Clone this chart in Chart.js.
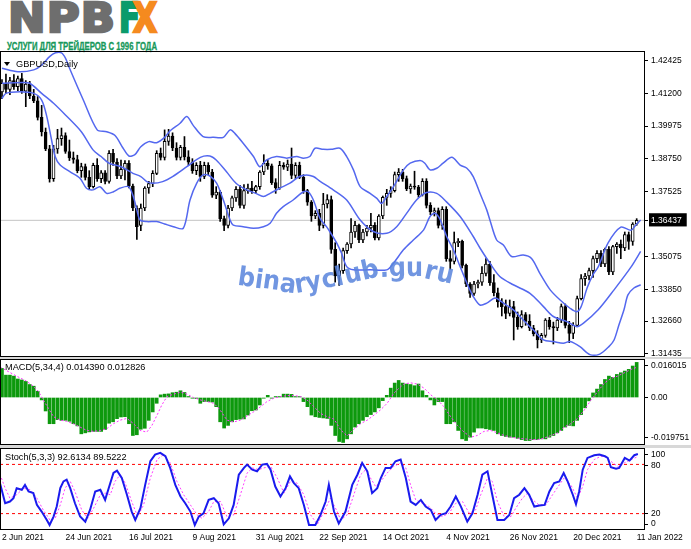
<!DOCTYPE html>
<html>
<head>
<meta charset="utf-8">
<title>GBPUSD Daily</title>
<script src="https://cdn.jsdelivr.net/npm/chart.js@4.4.1/dist/chart.umd.min.js"></script>
<style>
  body { margin:0; width:691px; height:549px; position:relative; overflow:hidden; background:#fff; font-family:"Liberation Sans", Arial, sans-serif; }
  canvas { position:absolute; left:0; }
  .sep { position:absolute; left:0; width:691px; background:#d8d8d8; }
  .lbl { position:absolute; font-size:9.2px; line-height:10px; color:#000; white-space:nowrap; }
  #tri { position:absolute; left:4px; top:62px; width:0; height:0; border-left:3px solid transparent; border-right:3px solid transparent; border-top:4px solid #000; }
  #logo span { position:absolute; font-family:"DejaVu Sans", sans-serif; font-weight:bold; font-size:41px; line-height:41px; top:-2px; transform-origin:0 0; white-space:nowrap; -webkit-text-stroke:2.5px currentColor; }
  #npb { left:8px; color:#6e6e6e; letter-spacing:1px; }
  #lf { left:119px; color:#0a9b6b; }
  #lx { left:133px; color:#f58a1f; }
  #sub { position:absolute; left:7px; top:41px; font-size:10.5px; line-height:10.5px; font-weight:bold; color:#16985a; white-space:nowrap; transform-origin:0 0; -webkit-text-stroke:0.3px currentColor; }
  #wm span { position:absolute; font-family:"DejaVu Sans", sans-serif; font-weight:bold; font-size:24px; line-height:24px; color:rgba(88,132,220,0.85); transform-origin:50% 20px; }
</style>
</head>
<body>
<div id="logo"><span id="npb">NPB</span><span id="lf">F</span><span id="lx">X</span></div>
<div id="sub">УСЛУГИ ДЛЯ ТРЕЙДЕРОВ С 1996 ГОДА</div>

<canvas id="cPrice" width="691" height="306" style="top:51px"></canvas>
<div class="sep" style="top:357px;height:2px"></div>
<canvas id="cMacd" width="691" height="86" style="top:359px"></canvas>
<div class="sep" style="top:445px;height:3px"></div>
<canvas id="cStoch" width="691" height="101" style="top:448px"></canvas>

<div id="tri"></div>
<div class="lbl" style="left:16px;top:59px">GBPUSD,Daily</div>
<div class="lbl" style="left:5px;top:362px">MACD(5,34,4) 0.014390 0.012826</div>
<div class="lbl" style="left:5px;top:452px">Stoch(5,3,3) 92.6134 89.5222</div>
<div id="wm"></div>

<script>
// ---- data ----
const dateLabels = ['2 Jun 2021','24 Jun 2021','16 Jul 2021','9 Aug 2021','31 Aug 2021','22 Sep 2021',
  '14 Oct 2021','4 Nov 2021','26 Nov 2021','20 Dec 2021','11 Jan 2022'];
const dateIdx = [0,16,32,48,64,80,96,112,128,144,160];
const priceTicks = [1.42425,1.41200,1.39975,1.38750,1.37525,1.36437,1.35075,1.33850,1.32660,1.31435];
const lastPrice = 1.36437;

const opens = [
  1.4125,1.4158,1.4135,1.4168,1.4145,1.4175,1.4128,1.4155,1.4110,1.4092,
  1.4030,1.3975,1.3912,1.3800,1.3912,1.3950,1.3962,1.3902,1.3878,1.3872,
  1.3830,1.3845,1.3805,1.3770,1.3850,1.3800,1.3822,1.3790,1.3895,1.3862,
  1.3810,1.3835,1.3858,1.3772,1.3690,1.3625,1.3690,1.3765,1.3782,1.3820,
  1.3895,1.3880,1.3940,1.3960,1.3915,1.3880,1.3918,1.3882,1.3862,1.3830,
  1.3850,1.3808,1.3850,1.3825,1.3738,1.3750,1.3650,1.3625,1.3690,1.3728,
  1.3760,1.3700,1.3755,1.3765,1.3755,1.3770,1.3825,1.3858,1.3848,1.3785,
  1.3765,1.3850,1.3843,1.3855,1.3812,1.3850,1.3805,1.3755,1.3712,1.3660,
  1.3670,1.3625,1.3705,1.3722,1.3535,1.3435,1.3455,1.3530,1.3555,1.3600,
  1.3625,1.3570,1.3600,1.3615,1.3625,1.3578,1.3660,1.3730,1.3745,1.3755,
  1.3815,1.3825,1.3800,1.3762,1.3772,1.3768,1.3740,1.3790,1.3700,1.3675,
  1.3680,1.3625,1.3685,1.3500,1.3490,1.3560,1.3565,1.3475,1.3405,1.3370,
  1.3405,1.3412,1.3445,1.3480,1.3410,1.3372,1.3338,1.3320,1.3295,1.3320,
  1.3280,1.3245,1.3290,1.3265,1.3240,1.3218,1.3195,1.3212,1.3270,1.3245,
  1.3240,1.3270,1.3320,1.3250,1.3220,1.3250,1.3350,1.3425,1.3435,1.3455,
  1.3500,1.3520,1.3480,1.3535,1.3450,1.3545,1.3555,1.3540,1.3590,1.3565,
  1.3630];
const highs = [
  1.4172,1.4192,1.4180,1.4190,1.4185,1.4195,1.4168,1.4165,1.4135,1.4108,
  1.4075,1.3990,1.3925,1.3925,1.3985,1.3990,1.3972,1.3945,1.3900,1.3888,
  1.3858,1.3855,1.3830,1.3858,1.3875,1.3830,1.3830,1.3905,1.3910,1.3875,
  1.3870,1.3868,1.3868,1.3780,1.3698,1.3705,1.3770,1.3790,1.3830,1.3905,
  1.3915,1.3983,1.3985,1.3972,1.3935,1.3925,1.3958,1.3905,1.3875,1.3860,
  1.3865,1.3862,1.3860,1.3835,1.3770,1.3755,1.3660,1.3700,1.3735,1.3770,
  1.3775,1.3778,1.3780,1.3790,1.3775,1.3830,1.3890,1.3870,1.3855,1.3800,
  1.3865,1.3860,1.3870,1.3915,1.3860,1.3862,1.3815,1.3760,1.3718,1.3680,
  1.3685,1.3745,1.3740,1.3735,1.3560,1.3480,1.3540,1.3560,1.3650,1.3640,
  1.3630,1.3610,1.3625,1.3670,1.3635,1.3665,1.3735,1.3760,1.3770,1.3825,
  1.3838,1.3835,1.3810,1.3780,1.3828,1.3775,1.3800,1.3800,1.3710,1.3690,
  1.3690,1.3695,1.3695,1.3530,1.3600,1.3575,1.3570,1.3480,1.3410,1.3415,
  1.3420,1.3470,1.3500,1.3490,1.3440,1.3390,1.3350,1.3345,1.3345,1.3340,
  1.3300,1.3305,1.3298,1.3290,1.3250,1.3230,1.3220,1.3275,1.3280,1.3262,
  1.3280,1.3330,1.3330,1.3265,1.3260,1.3360,1.3440,1.3445,1.3465,1.3510,
  1.3530,1.3530,1.3540,1.3545,1.3550,1.3560,1.3570,1.3600,1.3600,1.3635,
  1.3650];
const lows = [
  1.4100,1.4120,1.4115,1.4135,1.4130,1.4120,1.4070,1.4100,1.4085,1.4020,
  1.3960,1.3905,1.3787,1.3790,1.3895,1.3925,1.3895,1.3868,1.3858,1.3822,
  1.3805,1.3795,1.3760,1.3765,1.3790,1.3785,1.3780,1.3783,1.3850,1.3800,
  1.3800,1.3795,1.3765,1.3680,1.3572,1.3605,1.3680,1.3745,1.3770,1.3815,
  1.3870,1.3870,1.3925,1.3905,1.3870,1.3870,1.3870,1.3850,1.3820,1.3815,
  1.3790,1.3800,1.3815,1.3730,1.3725,1.3640,1.3605,1.3615,1.3680,1.3715,
  1.3690,1.3688,1.3745,1.3745,1.3745,1.3760,1.3815,1.3835,1.3778,1.3745,
  1.3760,1.3835,1.3830,1.3800,1.3800,1.3800,1.3745,1.3700,1.3640,1.3650,
  1.3605,1.3615,1.3690,1.3520,1.3412,1.3400,1.3445,1.3520,1.3540,1.3580,
  1.3560,1.3560,1.3585,1.3600,1.3570,1.3570,1.3650,1.3700,1.3730,1.3750,
  1.3790,1.3790,1.3755,1.3745,1.3760,1.3730,1.3735,1.3690,1.3665,1.3660,
  1.3615,1.3610,1.3490,1.3460,1.3480,1.3545,1.3465,1.3395,1.3355,1.3362,
  1.3390,1.3400,1.3435,1.3400,1.3360,1.3318,1.3285,1.3275,1.3285,1.3195,
  1.3235,1.3240,1.3250,1.3230,1.3210,1.3165,1.3185,1.3205,1.3235,1.3180,
  1.3230,1.3260,1.3240,1.3185,1.3200,1.3245,1.3345,1.3400,1.3420,1.3430,
  1.3485,1.3470,1.3470,1.3440,1.3440,1.3520,1.3500,1.3530,1.3535,1.3550,
  1.3625];
const closes = [
  1.4158,1.4135,1.4168,1.4145,1.4175,1.4128,1.4155,1.4110,1.4092,1.4030,
  1.3975,1.3912,1.3800,1.3912,1.3950,1.3962,1.3902,1.3878,1.3872,1.3830,
  1.3845,1.3805,1.3770,1.3850,1.3800,1.3822,1.3790,1.3895,1.3862,1.3810,
  1.3835,1.3858,1.3772,1.3690,1.3620,1.3690,1.3765,1.3782,1.3820,1.3895,
  1.3880,1.3940,1.3960,1.3915,1.3880,1.3918,1.3882,1.3862,1.3830,1.3850,
  1.3808,1.3850,1.3825,1.3738,1.3750,1.3650,1.3625,1.3690,1.3728,1.3760,
  1.3700,1.3755,1.3765,1.3755,1.3770,1.3825,1.3858,1.3848,1.3785,1.3765,
  1.3850,1.3843,1.3855,1.3812,1.3850,1.3805,1.3755,1.3712,1.3660,1.3670,
  1.3625,1.3705,1.3722,1.3535,1.3435,1.3455,1.3530,1.3555,1.3600,1.3625,
  1.3570,1.3600,1.3615,1.3625,1.3578,1.3660,1.3730,1.3745,1.3755,1.3815,
  1.3825,1.3800,1.3762,1.3772,1.3768,1.3740,1.3790,1.3700,1.3675,1.3680,
  1.3625,1.3685,1.3500,1.3490,1.3560,1.3565,1.3475,1.3405,1.3370,1.3405,
  1.3412,1.3445,1.3480,1.3410,1.3372,1.3338,1.3320,1.3295,1.3320,1.3280,
  1.3245,1.3290,1.3265,1.3240,1.3218,1.3195,1.3212,1.3270,1.3245,1.3240,
  1.3270,1.3320,1.3250,1.3220,1.3250,1.3350,1.3425,1.3435,1.3455,1.3500,
  1.3520,1.3480,1.3535,1.3450,1.3545,1.3555,1.3540,1.3590,1.3565,1.3630,
  1.3644];

// bollinger bands, [bar, price]
const bbUpper = [[0,1.4214],[4,1.4201],[8,1.4208],[10,1.4226],[12,1.4258],[13.5,1.4272],[15,1.4272],[16,1.4252],
  [17,1.4215],[20.5,1.4095],[24,1.3983],[26.4,1.3976],[28.5,1.3962],[30.5,1.3915],[32,1.3885],[33.5,1.3890],
  [35,1.3920],[37,1.3939],[39,1.3935],[41,1.3955],[42.4,1.3980],[44.9,1.4008],[46.6,1.4033],[48.2,1.4000],
  [50.7,1.3958],[53.3,1.3955],[55.8,1.3955],[57.5,1.3983],[58.7,1.3970],[60.8,1.3933],[63.4,1.3883],[65,1.3845],
  [66.7,1.3870],[69.2,1.3883],[71.8,1.3877],[74.3,1.3883],[76,1.3877],[77.6,1.3883],[78.9,1.3914],[81,1.3910],
  [83,1.3910],[85.2,1.3914],[86.9,1.3883],[88.6,1.3833],[90.3,1.3770],[92.8,1.3745],[94.5,1.3726],[95.7,1.3707],
  [97,1.3733],[98.7,1.3770],[101.2,1.3833],[102.9,1.3858],[105.4,1.3868],[106.6,1.3858],[107.9,1.3833],[109.6,1.3839],
  [111.2,1.3858],[113.4,1.3880],[115.5,1.3851],[117.2,1.3839],[118.8,1.3808],[120.5,1.3745],[122.2,1.3683],[123,1.3645],
  [124.7,1.3570],[126.4,1.3551],[128.5,1.3508],[131.4,1.3514],[133.5,1.3501],[135.6,1.3445],[138.2,1.3383],[140.7,1.3345],
  [143.2,1.3314],[144.9,1.3301],[146,1.3320],[147.5,1.3390],[149,1.3440],[150.3,1.3469],[152.8,1.3559],[156,1.3618],
  [158.6,1.3607],[159.8,1.3626],[161,1.3645]];
const bbMid = [[0,1.4158],[5,1.4161],[7,1.4158],[10,1.4120],[13,1.4083],[16,1.4039],[20,1.3976],[23,1.3907],
  [25,1.3883],[27,1.3858],[30,1.3845],[31.5,1.3833],[33,1.3820],[35,1.3808],[36.5,1.3789],[38,1.3783],[40.5,1.3789],
  [43,1.3808],[46.6,1.3845],[50,1.3880],[52.4,1.3885],[54,1.3870],[56.6,1.3826],[59,1.3783],[61.7,1.3758],[64,1.3745],
  [65.9,1.3733],[67.6,1.3745],[70,1.3764],[72.6,1.3783],[75,1.3808],[76.8,1.3814],[78.5,1.3808],[80.2,1.3790],
  [83.5,1.3758],[86.9,1.3720],[90.3,1.3645],[93.6,1.3602],[97,1.3595],[99.5,1.3620],[102,1.3670],[104.5,1.3720],
  [107,1.3748],[109.6,1.3745],[112,1.3714],[115.5,1.3658],[118.8,1.3583],[120.5,1.3540],[123,1.3483],[125.5,1.3433],
  [128.9,1.3402],[133.1,1.3370],[136.5,1.3320],[139,1.3283],[142.4,1.3264],[144.9,1.3245],[146.6,1.3258],[150.3,1.3308],
  [154.3,1.3383],[158.6,1.3469],[161,1.3527]];
const bbLower = [[0,1.4101],[1,1.4120],[4.5,1.4126],[8,1.4120],[10,1.4095],[11.3,1.4033],[12.5,1.3945],[13.4,1.3883],
  [14.6,1.3852],[17.1,1.3826],[19.7,1.3801],[21.3,1.3764],[23,1.3758],[24.7,1.3770],[26.4,1.3745],[28.1,1.3751],
  [29.7,1.3764],[31.9,1.3770],[33.1,1.3733],[34,1.3683],[34.8,1.3645],[36.5,1.3639],[39,1.3639],[41,1.3630],
  [43.2,1.3620],[45.7,1.3614],[47.4,1.3720],[49.1,1.3783],[50.7,1.3814],[52.4,1.3810],[54.1,1.3783],[55.8,1.3720],
  [57.5,1.3645],[58.3,1.3626],[60.8,1.3620],[63.4,1.3614],[65.9,1.3620],[67.6,1.3633],[69.2,1.3670],[70.9,1.3695],
  [73.4,1.3720],[76,1.3751],[77.2,1.3751],[78.5,1.3720],[80.2,1.3650],[81.8,1.3620],[82.7,1.3600],[84.4,1.3558],
  [85.6,1.3520],[86.9,1.3470],[88.6,1.3458],[92.8,1.3458],[97,1.3458],[98.7,1.3483],[101.2,1.3533],[103.7,1.3570],
  [106.3,1.3608],[107.9,1.3658],[109.2,1.3670],[110.5,1.3645],[112.1,1.3583],[113.8,1.3533],[115.5,1.3470],[117.2,1.3408],
  [118.8,1.3358],[120.5,1.3326],[122.2,1.3333],[124.3,1.3352],[126.4,1.3333],[128.9,1.3308],[131.4,1.3270],[133.9,1.3233],
  [136.5,1.3195],[139,1.3189],[141.5,1.3183],[143.2,1.3189],[145.7,1.3170],[148.2,1.3140],[150.7,1.3142],[153,1.3170],
  [154.3,1.3195],[155.5,1.3250],[156.8,1.3308],[157.8,1.3364],[159.3,1.3390],[161,1.3402]];

// MACD(5,34,4)
const macdHist = [
  0.0121,0.0093,0.0093,0.0089,0.0077,0.0073,0.0067,0.0054,0.0047,0.0026,
  -0.0010,-0.0056,-0.0109,-0.0109,-0.0092,-0.0095,-0.0095,-0.0099,-0.0109,-0.0118,
  -0.0151,-0.0147,-0.0143,-0.0141,-0.0141,-0.0141,-0.0133,-0.0107,-0.0101,-0.0088,
  -0.0081,-0.0080,-0.0109,-0.0158,-0.0155,-0.0132,-0.0128,-0.0095,-0.0060,-0.0024,
  0.0011,0.0014,0.0015,0.0020,0.0022,0.0028,0.0021,0.0004,-0.0003,-0.0004,
  -0.0024,-0.0017,-0.0017,-0.0019,-0.0038,-0.0101,-0.0127,-0.0116,-0.0101,-0.0092,
  -0.0090,-0.0089,-0.0073,-0.0055,-0.0052,-0.0031,-0.0003,0.0009,-0.0003,0.0004,
  0.0004,0.0014,0.0014,0.0013,0.0004,0.0004,-0.0017,-0.0038,-0.0073,-0.0080,
  -0.0083,-0.0085,-0.0087,-0.0116,-0.0158,-0.0183,-0.0187,-0.0172,-0.0151,-0.0123,
  -0.0109,-0.0095,-0.0080,-0.0071,-0.0060,-0.0043,-0.0013,0.0009,0.0039,0.0060,
  0.0071,0.0060,0.0056,0.0054,0.0049,0.0056,0.0028,0.0009,-0.0010,-0.0031,
  -0.0017,-0.0017,-0.0109,-0.0109,-0.0101,-0.0137,-0.0172,-0.0179,-0.0165,-0.0144,
  -0.0127,-0.0127,-0.0130,-0.0133,-0.0137,-0.0151,-0.0158,-0.0162,-0.0165,-0.0165,
  -0.0170,-0.0175,-0.0179,-0.0179,-0.0175,-0.0175,-0.0172,-0.0172,-0.0165,-0.0158,
  -0.0147,-0.0137,-0.0123,-0.0116,-0.0118,-0.0095,-0.0071,-0.0043,-0.0014,0.0019,
  0.0035,0.0054,0.0075,0.0089,0.0084,0.0096,0.0103,0.0110,0.0117,0.0131,
  0.0146];
const macdSignal = [[-0.5,0.0127],[2.9,0.0096],[4.5,0.0082],[6.2,0.0068],[7.9,0.0047],[9.2,0.0025],[10.4,-0.0010],
  [11.7,-0.0045],[13,-0.0080],[14.6,-0.0094],[16.3,-0.0099],[18,-0.0109],[19.7,-0.0123],[21.4,-0.0137],[23.1,-0.0141],
  [24.7,-0.0137],[26.4,-0.0130],[28.1,-0.0109],[29.8,-0.0094],[31.5,-0.0087],[33.2,-0.0109],[34.8,-0.0137],[36.5,-0.0144],
  [37.8,-0.0116],[39.1,-0.0073],[40.3,-0.0031],[41.6,0.0004],[43.3,0.0014],[45,0.0023],[46.6,0.0014],[48.3,0],
  [50,-0.0010],[51.7,-0.0017],[53.4,-0.0024],[55,-0.0052],[56.7,-0.0094],[58.4,-0.0102],[60.1,-0.0094],[61.8,-0.0076],
  [63.5,-0.0059],[65.2,-0.0038],[66.8,-0.0017],[68.5,-0.0003],[70.2,0.0004],[71.9,0.0008],[73.6,0.0008],[75.3,0.0004],
  [76.9,-0.0010],[78.6,-0.0038],[80.3,-0.0066],[82,-0.0080],[83.7,-0.0090],[85.4,-0.0135],[87,-0.0160],[88.7,-0.0132],
  [90.4,-0.0109],[92.1,-0.0094],[93.8,-0.0073],[95.4,-0.0052],[97.1,-0.0024],[98.8,0.0018],[100.1,0.0039],[101.3,0.0056],
  [103,0.0061],[104.7,0.0056],[106.4,0.0039],[108.1,0.0011],[109.8,-0.0010],[111.4,-0.0038],[113.1,-0.0080],[114.8,-0.0116],
  [116.5,-0.0144],[118.2,-0.0165],[119.8,-0.0158],[121.5,-0.0141],[123.2,-0.0137],[124.9,-0.0147],[126.6,-0.0158],
  [128.3,-0.0165],[130,-0.0169],[131.6,-0.0172],[133.3,-0.0175],[135,-0.0175],[136.7,-0.0169],[138.4,-0.0158],
  [140.1,-0.0147],[141.7,-0.0123],[143.4,-0.0109],[145.1,-0.0087],[146.8,-0.0052],[148.5,-0.0010],[150.2,0.0025],
  [151.9,0.0061],[153.5,0.0079],[155.2,0.0089],[156.9,0.0103],[158.6,0.0117],[160.3,0.0127]];

// Stoch(5,3,3)
const stochMain = [[-0.5,57],[0.8,32.6],[2,34.7],[2.9,38.8],[3.7,51],[5,49],[5.8,55],[6.7,47],[7.9,45],[8.8,30.6],
  [10,22.5],[11.3,12.2],[12,6.1],[13,16.4],[13.8,28.6],[14.7,51],[15.5,59.3],[16.3,61.3],[17.2,51],[18.4,32.6],
  [19.7,16.4],[21,10.2],[22.2,24.5],[23.5,47],[24.8,49],[26,36.7],[26.9,51],[28.1,69.5],[29,72.4],[30.2,63.4],
  [31.5,43],[32.7,22.5],[33.6,12.2],[34.9,26.5],[36.1,55],[37.4,83.8],[38.6,92],[39.9,94],[41.2,90],[42.4,75.7],
  [43.7,55],[45,40.9],[46.2,32.6],[47.5,22.5],[48.6,6.1],[49.6,16.4],[50.8,20.4],[52.1,36.7],[53.4,38.8],[54.6,32.6],
  [55.9,6.9],[57.2,14.3],[58.4,30.6],[59.7,67.4],[61,75.7],[61.8,79.8],[63.1,73.6],[64.3,71.6],[65.6,79.8],[66.8,80.6],
  [67.7,73.6],[68.9,53],[70.2,40.9],[71.5,51],[72.6,65.4],[73.6,57.2],[74.8,51],[76.1,30.6],[77.4,6.1],[79,6.1],
  [80.3,18.4],[81.6,34.7],[82.4,55],[83.7,22.5],[84.9,8],[86.6,22.5],[88.3,55],[89.6,67.4],[90.8,81.8],[92.1,71.6],
  [93.3,45],[94.6,51],[95.5,63.4],[96.7,75.7],[98,75.7],[99.2,83.8],[100.5,85.9],[101.8,63.4],[103,34.7],[104.3,30.6],
  [105.6,36.7],[106.8,28.6],[108.1,24.5],[109.3,12.2],[110.6,18.4],[111.9,20.4],[113.1,28.6],[114.4,40.9],[115.7,28.6],
  [117.3,10.2],[118.6,20.4],[119.9,43],[121.1,67.4],[122.4,71.6],[123.6,43],[124.9,12.2],[126.6,12.2],[127.9,18.4],
  [129.1,38.8],[130.4,43],[131.7,51],[132.9,42.9],[134.2,28.6],[135.5,29.8],[136.8,30.6],[138,47],[139.2,57.2],
  [140.5,59.3],[141.6,69.5],[142.6,59.3],[143.9,43],[144.7,31.5],[145.5,47],[146.4,73.6],[147.6,87.9],[149.3,91.2],
  [150.6,92],[152,90],[152.7,87.9],[153.5,76.5],[154.8,74.8],[155.6,75.7],[157,87.9],[158.2,84.7],[159.4,91.2],[160.3,92.6]];
const stochSignal = [[-0.5,68],[0.8,51],[2,38.8],[3.7,43],[5.4,51],[7.1,49],[8.8,38.8],[10.4,24.5],[12.1,12.2],
  [13.4,14.3],[14.7,30.6],[15.9,51],[17.2,59.3],[18.4,47],[20.1,24.5],[21.6,14.3],[23.1,26.5],[24.8,43],[26,45],
  [27.3,43],[28.5,59.3],[29.8,67.4],[31.1,57],[32.7,34.7],[34.2,16.4],[35.7,30.6],[37.4,63.4],[39.1,85.9],[40.7,92],
  [42.4,81.8],[44.1,59.3],[45.8,43],[47.5,30.6],[49.2,18.4],[50.4,14.3],[52.1,22.5],[53.4,34.7],[55.1,34.7],[56.7,16.4],
  [58.4,18.4],[60.1,43],[61.8,69.5],[63.1,75.7],[64.7,73.6],[66,75.7],[67.7,77.7],[69.4,63.4],[71.1,45],[72.7,59.3],
  [74.4,57.2],[76.1,43],[77.8,18.4],[79.5,6.9],[81.2,22.5],[82.8,38.8],[84.5,22.5],[85.4,12.2],[87,18.4],[88.7,43],
  [90.4,67.4],[91.7,73.6],[92.9,63.4],[94.2,53],[95.5,59.3],[97.1,69.5],[98.8,77.7],[100.5,81.8],[101.8,75.7],[103,55],
  [104.3,36.7],[106,32.6],[107.7,28.6],[109.3,20.4],[111,16.4],[112.7,20.4],[114.4,32.6],[116.1,34.7],[117.8,20.4],
  [119.4,24.5],[120.7,43],[122.4,63.4],[123.6,59.3],[124.9,34.7],[126.6,16.4],[128.3,16.4],[129.5,26.5],[131.2,38.8],
  [132.5,45],[133.8,36.7],[135.4,30.6],[137.1,30.6],[138.8,43],[140.5,55],[141.7,63.4],[143.4,55],[145.1,38.8],
  [146.4,53],[147.6,73.6],[149.3,85.9],[151,90],[152.3,88.7],[154,81.8],[155.6,76.5],[156.9,81.8],[158.6,85.9],[160.3,89.5]];
const stochLevels = [80, 20];

// ---- drawing ----
const X_MIN = -0.5, X_MAX = 162.1;
const BB_COLOR = '#5468ef';
const LBL_FONT = {family: '"Liberation Sans", Arial, sans-serif', size: 8.5};

function pts(arr) { return arr.map(function (p) { return {x: p[0], y: p[1]}; }); }
function hline(y) { return [{x: X_MIN, y: y}, {x: X_MAX, y: y}]; }

// black frame around every sub window
const frame = {
  id: 'frame',
  afterDatasetsDraw: function (chart) {
    const a = chart.chartArea, ctx = chart.ctx;
    ctx.save();
    ctx.strokeStyle = '#000';
    ctx.lineWidth = 1;
    ctx.strokeRect(a.left + 0.5, a.top + 0.5, a.right - a.left - 1, a.bottom - a.top - 1);
    ctx.restore();
  }
};

function baseOptions() {
  return {
    responsive: false, animation: false, devicePixelRatio: 1, events: [],
    layout: {padding: 0},
    plugins: {legend: {display: false}, tooltip: {enabled: false}}
  };
}
function xHidden() {
  return {type: 'linear', min: X_MIN, max: X_MAX, offset: false, display: false};
}
function yRight(min, max, vals, labelFn, extra) {
  return {
    position: 'right', min: min, max: max,
    // fixed width, and no extra room for labels so the plot fills the window
    afterFit: function (s) { s.width = 46; s.paddingTop = 0; s.paddingBottom = 0; },
    afterBuildTicks: function (s) { s.ticks = vals.map(function (v) { return {value: v}; }); },
    border: {display: false},
    grid: {drawOnChartArea: false, drawTicks: true, tickLength: 3, color: '#000'},
    ticks: Object.assign({autoSkip: false, padding: 3, font: LBL_FONT, color: '#000', callback: labelFn}, extra || {})
  };
}
function lineDs(data, color, width, dash, order, tension) {
  return {type: 'line', data: data, borderColor: color, borderWidth: width, borderDash: dash || [],
    pointRadius: 0, fill: false, tension: tension || 0, order: order};
}

// price window
const bodies = closes.map(function (c, i) { return {x: i, y: [opens[i], c]}; });
const wicks = closes.map(function (c, i) { return {x: i, y: [lows[i], highs[i]]}; });
const bodyFill = closes.map(function (c, i) { return c >= opens[i] ? '#ffffff' : '#000000'; });

const priceOpts = baseOptions();
priceOpts.scales = {
  x: xHidden(),
  y: yRight(1.31311, 1.42789, priceTicks, function (v) { return v.toFixed(5); }, {
    color: function (c) { return c.tick && c.tick.value === lastPrice ? '#fff' : '#000'; },
    showLabelBackdrop: function (c) { return !!(c.tick && c.tick.value === lastPrice); },
    backdropColor: '#000',
    backdropPadding: {top: 2, bottom: 1, left: 2, right: 5}
  })
};
new Chart(document.getElementById('cPrice'), {
  type: 'bar',
  data: {datasets: [
    lineDs(pts(bbUpper), BB_COLOR, 1.5, null, 0, 0.3),
    lineDs(pts(bbMid), BB_COLOR, 1.5, null, 0, 0.3),
    lineDs(pts(bbLower), BB_COLOR, 1.5, null, 0, 0.3),
    {type: 'bar', data: bodies, backgroundColor: bodyFill, borderColor: '#000', borderWidth: 1,
      borderSkipped: false, barThickness: 3, grouped: false, order: 1},
    {type: 'bar', data: wicks, backgroundColor: '#000', barThickness: 1, grouped: false, order: 2},
    lineDs(hline(lastPrice), '#c4c4c4', 1, null, 5)
  ]},
  options: priceOpts,
  plugins: [frame]
});

// MACD window
const macdTickVals = [0.013229, 0, -0.016715];
const macdTickText = ['0.016015', '0.00', '-0.019751'];
const macdOpts = baseOptions();
macdOpts.scales = {
  x: xHidden(),
  y: yRight(-0.019751, 0.016015, macdTickVals, function (v, i) { return macdTickText[i]; })
};
new Chart(document.getElementById('cMacd'), {
  type: 'bar',
  data: {datasets: [
    lineDs(pts(macdSignal), '#ff33ff', 1, [2, 2], 0),
    {type: 'bar', data: macdHist.map(function (v, i) { return {x: i, y: v}; }),
      backgroundColor: '#0d990d', barThickness: 3, grouped: false, order: 1}
  ]},
  options: macdOpts,
  plugins: [frame]
});

// Stochastic window
const stochTickVals = [91.5, 78.4, 19.9, 7.3];
const stochTickText = ['100', '80', '20', '0'];
const stochOpts = baseOptions();
stochOpts.scales = {
  x: {
    type: 'linear', min: X_MIN, max: X_MAX, offset: false, position: 'bottom',
    afterFit: function (s) { s.height = 19; s.paddingLeft = 0; s.paddingRight = 0; },
    afterBuildTicks: function (s) { s.ticks = dateIdx.map(function (v) { return {value: v}; }); },
    border: {display: false},
    grid: {display: true, drawOnChartArea: false, drawTicks: true, tickLength: 3, color: 'rgba(0,0,0,0)'},
    ticks: {autoSkip: false, maxRotation: 0, minRotation: 0, align: 'start', padding: 0,
      font: LBL_FONT, color: '#000', callback: function (v, i) { return dateLabels[i]; }}
  },
  y: yRight(0, 100, stochTickVals, function (v, i) { return stochTickText[i]; })
};
new Chart(document.getElementById('cStoch'), {
  type: 'line',
  data: {datasets: [
    lineDs(pts(stochMain), '#1a1aee', 2, null, 0),
    lineDs(pts(stochSignal), '#ff40ff', 1, [2, 2], 1),
    lineDs(hline(stochLevels[0]), '#ff0000', 1, [3, 3], 2),
    lineDs(hline(stochLevels[1]), '#ff0000', 1, [3, 3], 2)
  ]},
  options: stochOpts,
  plugins: [frame]
});

// ---- logo sizing ----
function fitWidth(id, w) {
  const el = document.getElementById(id);
  el.style.transform = 'scaleX(' + (w / el.getBoundingClientRect().width) + ')';
}
fitWidth('npb', 108);
fitWidth('lf', 21);
fitWidth('lx', 24);
fitWidth('sub', 150);

// ---- watermark along a curved baseline ----
(function () {
  const wm = document.getElementById('wm');
  const txt = 'binaryclub.guru';
  const meas = document.createElement('canvas').getContext('2d');
  meas.font = 'bold 24px "DejaVu Sans"';
  const total = meas.measureText(txt).width;
  const scale = 215 / total;
  const curve = [[232,284],[297,293],[337,286],[377,277],[417,276],[452,284]];
  function baseY(x) {
    for (let k = 0; k < curve.length - 1; k++) {
      const a = curve[k], b = curve[k + 1];
      if (x <= b[0] || k === curve.length - 2) {
        return a[1] + (b[1] - a[1]) * (x - a[0]) / (b[0] - a[0]);
      }
    }
    return curve[0][1];
  }
  let s = 237;
  for (const ch of txt) {
    const w = meas.measureText(ch).width * scale;
    const cx = s + w / 2;
    const slope = (baseY(cx + 3) - baseY(cx - 3)) / 6;
    const sp = document.createElement('span');
    sp.textContent = ch;
    sp.style.left = (cx - meas.measureText(ch).width / 2) + 'px';
    sp.style.top = (baseY(cx) - 20) + 'px';
    sp.style.transform = 'rotate(' + Math.atan(slope) + 'rad) scale(' + scale + ',1.1)';
    wm.appendChild(sp);
    s += w;
  }
})();
</script>
</body>
</html>
